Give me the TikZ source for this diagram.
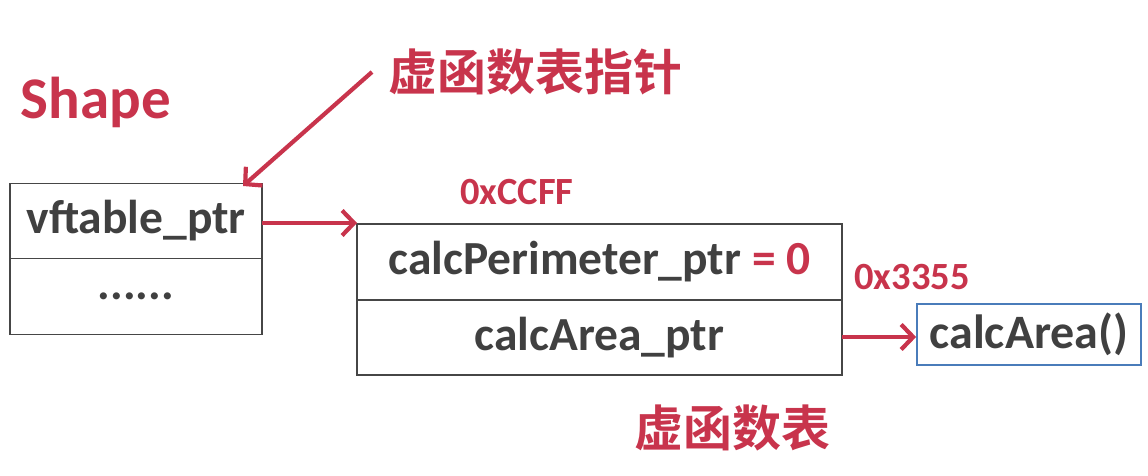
\documentclass[tikz,border=0pt]{standalone}
\usepackage{fontspec}
\setmainfont{Carlito}
\newfontfamily\cjk{Noto Sans CJK SC}[BoldFont={Noto Sans CJK SC Bold}]
\usetikzlibrary{arrows.meta}
\definecolor{ared}{RGB}{200,52,76}
\definecolor{tgrey}{RGB}{64,64,64}
\definecolor{bgrey}{RGB}{70,70,70}
\definecolor{fblue}{RGB}{74,124,186}
\begin{document}
\begin{tikzpicture}[x=1pt,y=-1pt,
  cell/.style={draw=bgrey,line width=1.2pt,minimum width=#1,inner sep=0pt,outer sep=0pt,text=tgrey,font=\bfseries\fontsize{47.5}{50}\selectfont},
  redarrow/.style={draw=ared,line width=4.2pt,-{Straight Barb[length=12pt,width=25pt]}},
  redtxt/.style={text=ared,font=\bfseries\fontsize{38.5}{40}\selectfont,inner sep=0pt},
  cjktxt/.style={text=ared,font=\cjk\bfseries\fontsize{49}{51}\selectfont,inner sep=0pt}]
\useasboundingbox (0,0) rectangle (1148,476);
% Shape object
\node[cell=252pt,minimum height=75pt] (vp) at (136,221) {\raisebox{5pt}{vftable\_ptr}};
\node[cell=252pt,minimum height=76pt,anchor=north] (dots) at (vp.south) {\raisebox{-4pt}{......}};
\node[text=ared,font=\bfseries\fontsize{59}{61}\selectfont,inner sep=0pt] (shape) at (96,102) {Shape};
% vtable
\node[cell=485pt,minimum height=76pt] (cp) at (599.5,262) {\raisebox{4pt}{calcPerimeter\_ptr \textcolor{ared}{= 0}}};
\node[cell=485pt,minimum height=75pt,anchor=north] (ca) at (cp.south) {\raisebox{5pt}{calcArea\_ptr}};
% function
\node[draw=fblue,line width=1.8pt,minimum width=224pt,minimum height=61pt,inner sep=0pt,text=tgrey,font=\bfseries\fontsize{48}{50}\selectfont] (fn) at (1029,334.5) {calcArea()};
% labels
\node[redtxt] (ccff) at (517,192) {0xCCFF};
\node[redtxt] (x3355) at (912,277) {0x3355};
\node[cjktxt] (vptrlbl) at (535,72) {虚函数表指针};
\node[cjktxt] (vtbllbl) at (732,428) {虚函数表};
% arrows
\coordinate (a0) at (372,72);
\draw[redarrow] (a0) -- (243,186);
\draw[redarrow] (vp.east |- 0,223) -- (cp.west |- 0,223);
\draw[redarrow] (ca.east |- 0,337) -- (fn.west |- 0,337);
\end{tikzpicture}
\end{document}
